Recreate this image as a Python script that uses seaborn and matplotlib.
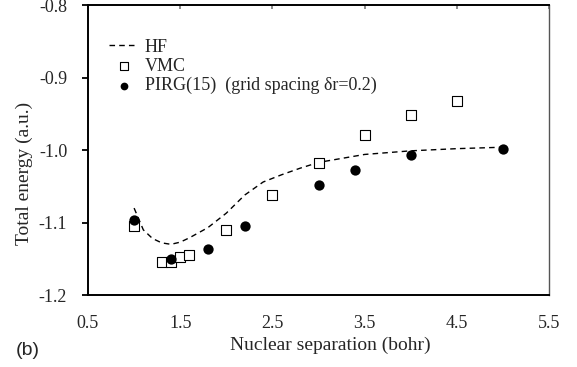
import matplotlib

matplotlib.use("Agg")
import matplotlib.pyplot as plt
import seaborn as sns
from matplotlib.ticker import FormatStrFormatter, FixedLocator

# HF curve (dashed)
hf_x = [1.0, 1.1, 1.2, 1.3, 1.4, 1.5, 1.6, 1.8, 2.0, 2.2, 2.4, 2.6, 2.8, 3.0, 3.5, 4.0, 4.5, 5.0]
hf_y = [-1.080, -1.110, -1.122, -1.128, -1.130, -1.127, -1.121, -1.107, -1.087,
        -1.062, -1.044, -1.034, -1.025, -1.017, -1.006, -1.001, -0.998, -0.996]

# VMC (open squares)
vmc_x = [1.0, 1.3, 1.4, 1.5, 1.6, 2.0, 2.5, 3.0, 3.5, 4.0, 4.5]
vmc_y = [-1.105, -1.154, -1.155, -1.148, -1.145, -1.110, -1.062, -1.018, -0.979, -0.952, -0.932]

# PIRG(15) (filled circles)
pirg_x = [1.0, 1.4, 1.8, 2.2, 3.0, 3.4, 4.0, 5.0]
pirg_y = [-1.097, -1.150, -1.137, -1.105, -1.048, -1.028, -1.007, -0.998]

x_ticks = [0.5, 1.5, 2.5, 3.5, 4.5, 5.5]
y_ticks = [-1.2, -1.1, -1.0, -0.9, -0.8]

sns.set_style("white")
plt.rcParams["font.family"] = ["Liberation Serif", "DejaVu Serif"]
plt.rcParams["axes.unicode_minus"] = False

fig = plt.figure(figsize=(5.77, 3.67), dpi=100)
ax = fig.add_axes([0.1525, 0.196, 0.799, 0.790])

sns.lineplot(x=hf_x, y=hf_y, ax=ax, color="black", linewidth=1.0,
             linestyle=(0, (4, 3)), label="HF")
sns.scatterplot(x=vmc_x, y=vmc_y, ax=ax, marker="s", s=48, color="white",
                edgecolor="black", linewidth=0.8, label="VMC", zorder=3)
sns.scatterplot(x=pirg_x, y=pirg_y, ax=ax, marker="o", s=55, color="black",
                edgecolor="black", linewidth=0, label="PIRG(15)  (grid spacing \u03b4r=0.2)",
                zorder=4)

ax.set_xlim(0.5, 5.5)
ax.set_ylim(-1.2, -0.8)
ax.xaxis.set_major_locator(FixedLocator(x_ticks))
ax.yaxis.set_major_locator(FixedLocator(y_ticks))
ax.xaxis.set_major_formatter(FormatStrFormatter("%.1f"))
ax.yaxis.set_major_formatter(FormatStrFormatter("%.1f"))

ax.tick_params(axis="x", bottom=False, top=True, direction="in", length=3,
               width=1.2, color="#777777", labelsize=13, pad=14)
ax.tick_params(axis="y", left=True, direction="out", length=4.5, width=1.3,
               color="black", labelsize=13, pad=10.5)

for side in ["left", "bottom", "top"]:
    ax.spines[side].set_color("black")
    ax.spines[side].set_linewidth(1.4)
ax.spines["right"].set_color("#555555")
ax.spines["right"].set_linewidth(1.0)

ax.set_xlabel("Nuclear separation (bohr)", fontsize=14)
ax.set_ylabel("Total energy (a.u.)", fontsize=14)
ax.xaxis.set_label_coords(0.525, -0.145)
ax.yaxis.set_label_coords(-0.119, 0.42)

ax.legend(loc="upper left", bbox_to_anchor=(0.027, 0.915), frameon=False,
          fontsize=13, borderpad=0, labelspacing=0.12, handlelength=1.6,
          handletextpad=0.35, markerscale=0.75)

fig.text(0.028, 0.033, "(b)", fontsize=14, family=["Liberation Sans", "DejaVu Sans"],
         ha="left", va="baseline")

fig.savefig("out.png", dpi=100)
plt.close(fig)
